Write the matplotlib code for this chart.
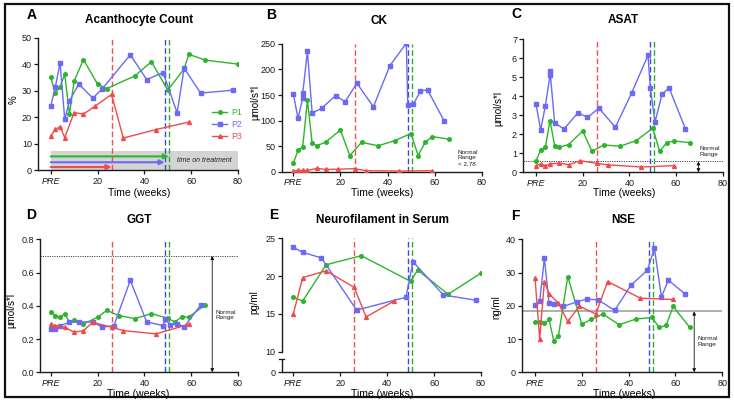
import matplotlib
matplotlib.use('Agg')
import matplotlib.pyplot as plt
from matplotlib.patches import Rectangle

plt.rcParams['font.family'] = ['Liberation Sans', 'DejaVu Sans']

# ---------------- data ----------------
# A: Acanthocyte count (%)
a_p1_x = [0, 2, 4, 6, 8, 10, 14, 20, 24, 36, 43, 50, 57, 59, 66, 80]
a_p1_y = [35.0, 29.2, 31.5, 36.1, 21.2, 33.6, 41.7, 32.5, 30.8, 35.6, 40.9, 30.2, 38.2, 43.7, 41.5, 40.0]
a_p2_x = [0, 2, 4, 6, 8, 12, 18, 22, 34, 41, 48, 54, 57, 64, 78]
a_p2_y = [24.1, 31.5, 40.4, 19.2, 26.1, 32.5, 27.2, 30.7, 43.5, 34.2, 36.8, 21.7, 38.5, 29.1, 30.2]
a_p3_x = [0, 2, 4, 6, 10, 14, 19, 26, 31, 45, 59]
a_p3_y = [13.0, 15.5, 16.4, 12.4, 21.8, 21.2, 24.2, 28.6, 12.2, 15.4, 18.2]

# B: CK
b_p1_x = [0, 2, 4, 6, 8, 10, 14, 20, 24, 29, 36, 43, 50, 53, 56, 59, 66]
b_p1_y = [17, 42, 49, 140, 56, 51, 59, 82, 32, 58, 51, 61, 75, 32, 58, 69, 64]
b_p2_x = [0, 2, 4, 4, 6, 8, 12, 18, 22, 27, 34, 41, 48, 48.6, 51, 54, 57, 64]
b_p2_y = [152, 105, 144, 153, 235, 115, 124, 149, 137, 173, 127, 207, 251, 131, 132, 158, 160, 100]
b_p3_x = [0, 2, 4, 6, 10, 14, 19, 26, 31, 45, 59]
b_p3_y = [2, 3, 3, 3, 7, 5, 5.5, 6.5, 2.5, 2, 2.5]

# C: ASAT
c_p1_x = [0, 2, 4, 6, 8, 10, 14, 20, 24, 29, 36, 43, 50, 53, 56, 59, 66]
c_p1_y = [0.61, 1.16, 1.32, 2.72, 1.39, 1.33, 1.46, 2.18, 1.10, 1.44, 1.37, 1.67, 2.32, 1.10, 1.56, 1.65, 1.56]
c_p2_x = [0, 2, 4, 6, 6, 8, 12, 18, 22, 27, 34, 41, 48, 49, 51, 54, 57, 64]
c_p2_y = [3.6, 2.23, 3.49, 5.1, 5.35, 2.6, 2.28, 3.14, 2.89, 3.37, 2.37, 4.18, 6.16, 4.42, 2.65, 4.1, 4.45, 2.3]
c_p3_x = [0, 2, 4, 6, 10, 14, 19, 26, 31, 45, 59]
c_p3_y = [0.35, 0.44, 0.35, 0.44, 0.49, 0.40, 0.61, 0.47, 0.39, 0.28, 0.35]

# D: GGT
d_p1_x = [0, 2, 4, 6, 8, 10, 14, 20, 24, 29, 36, 43, 50, 53, 56, 59, 66]
d_p1_y = [0.365, 0.341, 0.331, 0.353, 0.301, 0.313, 0.291, 0.331, 0.373, 0.341, 0.323, 0.353, 0.325, 0.303, 0.333, 0.333, 0.405]
d_p2_x = [0, 2, 4, 8, 12, 18, 22, 27, 34, 41, 48, 49, 51, 54, 57, 64]
d_p2_y = [0.263, 0.263, 0.281, 0.301, 0.303, 0.303, 0.271, 0.281, 0.553, 0.303, 0.281, 0.323, 0.283, 0.293, 0.273, 0.403]
d_p3_x = [0, 2, 6, 10, 14, 18, 26, 31, 45, 59]
d_p3_y = [0.289, 0.281, 0.271, 0.241, 0.251, 0.301, 0.271, 0.251, 0.231, 0.289]

# E: Neurofilament in serum (pg/ml)
e_p1_x = [0, 4, 14, 29, 50, 53, 66, 80]
e_p1_y = [17.2, 16.7, 21.5, 22.7, 19.3, 20.8, 17.6, 20.4]
e_p2_x = [0, 4, 12, 27, 48, 51, 64, 78]
e_p2_y = [23.8, 23.15, 22.4, 15.5, 17.2, 21.9, 17.5, 16.8]
e_p3_x = [0, 4, 14, 26, 31, 43]
e_p3_y = [15.0, 19.8, 20.7, 18.5, 14.6, 16.7]

# F: NSE (ng/ml)
f_p1_x = [0, 2, 4, 6, 8, 10, 14, 20, 24, 29, 36, 43, 50, 53, 56, 59, 66]
f_p1_y = [15.2, 15.2, 14.7, 15.9, 9.5, 10.9, 28.8, 14.4, 15.9, 17.5, 14.3, 16.0, 16.5, 13.5, 14.1, 19.8, 13.6]
f_p2_x = [0, 2, 4, 6, 8, 12, 18, 22, 27, 34, 41, 48, 51, 54, 57, 64]
f_p2_y = [20.2, 21.3, 34.3, 20.8, 20.6, 19.8, 21.2, 22.0, 21.8, 18.6, 26.2, 30.7, 37.3, 22.7, 27.7, 23.6]
f_p3_x = [0, 2, 4, 6, 10, 14, 19, 26, 31, 45, 59]
f_p3_y = [28.5, 10.0, 27.3, 23.6, 20.8, 15.3, 19.9, 17.5, 27.3, 22.3, 21.9]

# treatment start (weeks) per patient
treat_p1 = 50.5
treat_p2 = 48.7
treat_p3 = 26.0

# normal range limits
normal_c = 0.58
normal_d = 0.70
normal_f = 18.3

series_labels = ['P1', 'P2', 'P3']
x_ticks = [0, 20, 40, 60, 80]
x_ticklabels = ['PRE', '20', '40', '60', '80']

# ---------------- style ----------------
GREEN = '#2CB52C'
BLUE = '#6A6AF6'
RED = '#F04A4A'
DGREEN = '#2AAE2A'
DBLUE = '#4545E0'
DRED = '#F05050'
SPINE = '#1a1a1a'

W, H = 734, 407
fig = plt.figure(figsize=(W / 100, H / 100), dpi=100)


def add_ax(l, t, r, b, x0px):
    ax = fig.add_axes([l / W, 1 - b / H, (r - l) / W, (b - t) / H])
    scale = (r - x0px) / 80.0
    ax.set_xlim(-(x0px - l) / scale, 80)
    for s in ['top', 'right']:
        ax.spines[s].set_visible(False)
    for s in ['left', 'bottom']:
        ax.spines[s].set_color(SPINE)
        ax.spines[s].set_linewidth(1.0)
    ax.tick_params(direction='out', length=3, width=0.9, labelsize=6.5,
                   pad=1.5, colors=SPINE)
    ax.set_xticks(x_ticks)
    ax.set_xticklabels(x_ticklabels)
    ax.get_xticklabels()[0].set_fontstyle('italic')
    return ax


def plot_series(ax, data):
    (x1, y1), (x2, y2), (x3, y3) = data
    ax.plot(x1, y1, color=GREEN, lw=1.0, marker='o', ms=2.6, label=series_labels[0], zorder=3)
    ax.plot(x2, y2, color=BLUE, lw=1.0, marker='s', ms=2.6, label=series_labels[1], zorder=3)
    ax.plot(x3, y3, color=RED, lw=1.0, marker='^', ms=2.8, label=series_labels[2], zorder=3)


def vlines(ax):
    for xv, c in [(treat_p3, DRED), (treat_p2, DBLUE), (treat_p1, DGREEN)]:
        ax.axvline(xv, color=c, lw=1.0, ls=(0, (4, 2)), zorder=2)


def normal_arrow(ax, xv, top, lw=0.6):
    ax.annotate('', xy=(xv, top), xytext=(xv, 0),
                arrowprops=dict(arrowstyle='<|-|>', color='#111111', lw=lw,
                                mutation_scale=5, shrinkA=0, shrinkB=0))


def ftext(x, y, s, **kw):
    fig.text(x / W, 1 - y / H, s, **kw)


# ---- Panel A ----
axA = add_ax(38.3, 37.5, 238, 170.5, 50.7)
axA.set_ylim(0, 50)
axA.set_yticks([0, 10, 20, 30, 40, 50])
axA.add_patch(Rectangle((0, 0), 80, 7.3, color='#D4D4D4', lw=0, zorder=0.5))
vlines(axA)
plot_series(axA, [(a_p1_x, a_p1_y), (a_p2_x, a_p2_y), (a_p3_x, a_p3_y)])
for yv, xe, c in [(5.3, treat_p1, GREEN), (3.1, treat_p2, BLUE), (1.3, treat_p3, RED)]:
    axA.annotate('', xy=(xe, yv), xytext=(0, yv),
                 arrowprops=dict(arrowstyle='-|>', color=c, lw=1.5,
                                 mutation_scale=7, shrinkA=0, shrinkB=0), zorder=4)
axA.text(65.7, 3.6, 'time on treatment', fontsize=5, style='italic',
         ha='center', va='center', color='#222222', zorder=5)
axA.legend(loc='upper left', bbox_to_anchor=(208 / W, 1 - 104 / H),
           bbox_transform=fig.transFigure, frameon=False, fontsize=6.3,
           handlelength=1.7, handletextpad=0.5, labelspacing=0.3,
           borderpad=0, labelcolor='linecolor')

# ---- Panel B ----
axB = add_ax(281.7, 43.7, 481.7, 172, 293.3)
axB.set_ylim(0, 250)
axB.set_yticks([0, 50, 100, 150, 200, 250])
vlines(axB)
plot_series(axB, [(b_p1_x, b_p1_y), (b_p2_x, b_p2_y), (b_p3_x, b_p3_y)])
ftext(458, 158, 'Normal\nRange\n< 2,78', fontsize=4.6, ha='left', va='center',
      color='#222222', linespacing=1.25)

# ---- Panel C ----
axC = add_ax(523.3, 39.3, 722.7, 172.3, 536)
axC.set_ylim(0, 7)
axC.set_yticks(range(0, 8))
vlines(axC)
axC.axhline(normal_c, color='#444444', lw=0.7, ls=(0, (1.2, 1.2)), zorder=1)
plot_series(axC, [(c_p1_x, c_p1_y), (c_p2_x, c_p2_y), (c_p3_x, c_p3_y)])
normal_arrow(axC, 69.6, normal_c)
ftext(700, 151.5, 'Normal\nRange', fontsize=4.6, ha='left', va='center',
      color='#222222', linespacing=1.25)

# ---- Panel D ----
axD = add_ax(40, 239.3, 238, 372.3, 50.7)
axD.set_ylim(0, 0.8)
axD.set_yticks([0, 0.2, 0.4, 0.6, 0.8])
axD.set_yticklabels(['0.0', '0.2', '0.4', '0.6', '0.8'])
vlines(axD)
axD.axhline(normal_d, color='#444444', lw=0.7, ls=(0, (1.2, 1.2)), zorder=1)
plot_series(axD, [(d_p1_x, d_p1_y), (d_p2_x, d_p2_y), (d_p3_x, d_p3_y)])
normal_arrow(axD, 69, normal_d)
ftext(215, 315, 'Normal\nRange', fontsize=4.6, ha='left', va='center',
      color='#222222', linespacing=1.25)

# ---- Panel E (broken y axis) ----
axE = add_ax(281.7, 238.3, 481, 372.3, 293.3)
y_bot = 10 - 20.6 / 7.56
y_seg = 10 - 7.6 / 7.56
axE.set_ylim(y_bot, 25)
axE.set_yticks([y_bot, 10, 15, 20, 25])
axE.set_yticklabels(['0', '10', '15', '20', '25'])
axE.spines['left'].set_bounds(10, 25)
ytr = axE.get_yaxis_transform()
axE.plot([0, 0], [y_bot, y_seg], color=SPINE, lw=1.0, transform=ytr, clip_on=False)
axE.plot([-0.013, 0.013], [y_seg, y_seg], color=SPINE, lw=0.9, transform=ytr, clip_on=False)
vlines(axE)
plot_series(axE, [(e_p1_x, e_p1_y), (e_p2_x, e_p2_y), (e_p3_x, e_p3_y)])

# ---- Panel F ----
axF = add_ax(522.3, 239.3, 722.3, 372.3, 535)
axF.set_ylim(0, 40)
axF.set_yticks([0, 10, 20, 30, 40])
vlines(axF)
axF.axhline(normal_f, color='#A8A8A8', lw=1.3, zorder=1)
plot_series(axF, [(f_p1_x, f_p1_y), (f_p2_x, f_p2_y), (f_p3_x, f_p3_y)])
normal_arrow(axF, 68, normal_f)
ftext(697, 341.7, 'Normal\nRange', fontsize=4.6, ha='left', va='center',
      color='#222222', linespacing=1.25)

# ---- titles, panel letters, axis labels ----
titles = [('Acanthocyte Count', 139, 20), ('CK', 379, 21), ('ASAT', 623, 20),
          ('GGT', 139, 220.5), ('Neurofilament in Serum', 383, 220), ('NSE', 623, 220.5)]
for s, x, y in titles:
    ftext(x, y, s, fontsize=8.5, fontweight='bold', ha='center', va='center')

letters = [('A', 26.5, 14.7), ('B', 266.5, 14.7), ('C', 511, 14.5),
           ('D', 26.5, 214.7), ('E', 269.3, 215), ('F', 511, 215.8)]
for s, x, y in letters:
    ftext(x, y, s, fontsize=10, fontweight='bold', ha='left', va='center')

for x, y in [(138.7, 193.5), (381.8, 193.5), (624, 193.5),
             (138, 394.3), (381.8, 394.3), (623.8, 394.3)]:
    ftext(x, y, 'Time (weeks)', fontsize=7.5, ha='center', va='center')

ylabels = [('%', 13.3, 100), ('µmol/s*l', 255, 103), ('µmol/s*l', 498.3, 108),
           ('µmol/s*l', 11.7, 310), ('pg/ml', 254, 302), ('ng/ml', 496.7, 307)]
for s, x, y in ylabels:
    ftext(x, y, s, fontsize=7, ha='center', va='center', rotation=90)

# outer frame
fig.add_artist(Rectangle((5 / W, 1 - 397 / H), (729 - 5) / W, (397 - 4) / H,
                         transform=fig.transFigure, fill=False, lw=1.6, ec='#111111'))

fig.savefig('out.png', dpi=100)
